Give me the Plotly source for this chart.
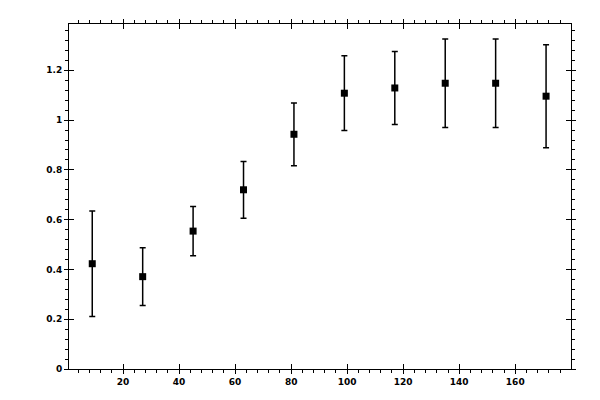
import plotly.graph_objects as go

# data
x_vals = [9, 27, 45, 63, 81, 99, 117, 135, 153, 171]
y_vals = [0.423, 0.371, 0.554, 0.720, 0.943, 1.108, 1.129, 1.148, 1.148, 1.096]
y_err = [0.212, 0.116, 0.099, 0.114, 0.126, 0.150, 0.147, 0.178, 0.178, 0.207]

X_RANGE = [0.7, 179.9]
Y_RANGE = [0, 1.386]
INK = "#000000"
TICK_FONT = dict(family="DejaVu Sans", size=9, color=INK, weight="bold")

fig = go.Figure()

fig.add_trace(go.Scatter(
    x=x_vals, y=y_vals, mode="markers",
    marker=dict(symbol="square", size=7, color=INK),
    error_y=dict(type="data", array=y_err, visible=True,
                 color=INK, thickness=1.5, width=3),
    showlegend=False, hoverinfo="skip",
))

# invisible copy on the overlay axes so the inner half of the ticks gets drawn
fig.add_trace(go.Scatter(
    x=x_vals, y=y_vals, mode="markers", xaxis="x2", yaxis="y2",
    marker=dict(opacity=0), showlegend=False, hoverinfo="skip",
))

axis_common = dict(
    showgrid=False, zeroline=False, showline=True, linecolor=INK, linewidth=1,
    mirror="ticks", tickcolor=INK, tickwidth=1,
)

# page body adds an 8px offset, margins account for it
fig.update_layout(
    width=600, height=400,
    paper_bgcolor="white", plot_bgcolor="white",
    margin=dict(l=61, r=37, t=11, b=39),
    font=TICK_FONT,
    xaxis=dict(
        **axis_common, range=X_RANGE, dtick=20, tick0=0,
        ticks="outside", ticklen=4, tickfont=TICK_FONT,
        minor=dict(dtick=4, tick0=0, ticks="outside", ticklen=3, tickcolor=INK),
    ),
    yaxis=dict(
        **axis_common, range=Y_RANGE, dtick=0.2, tick0=0,
        ticks="outside", ticklen=4, tickfont=TICK_FONT,
        minor=dict(dtick=0.04, tick0=0, ticks="outside", ticklen=3, tickcolor=INK),
    ),
    xaxis2=dict(
        **axis_common, range=X_RANGE, dtick=20, tick0=0, overlaying="x",
        anchor="y2", ticks="inside", ticklen=5, showticklabels=False,
    ),
    yaxis2=dict(
        **axis_common, range=Y_RANGE, dtick=0.2, tick0=0, overlaying="y",
        anchor="x2", ticks="inside", ticklen=5, showticklabels=False,
    ),
)

fig.write_html("out.html")
